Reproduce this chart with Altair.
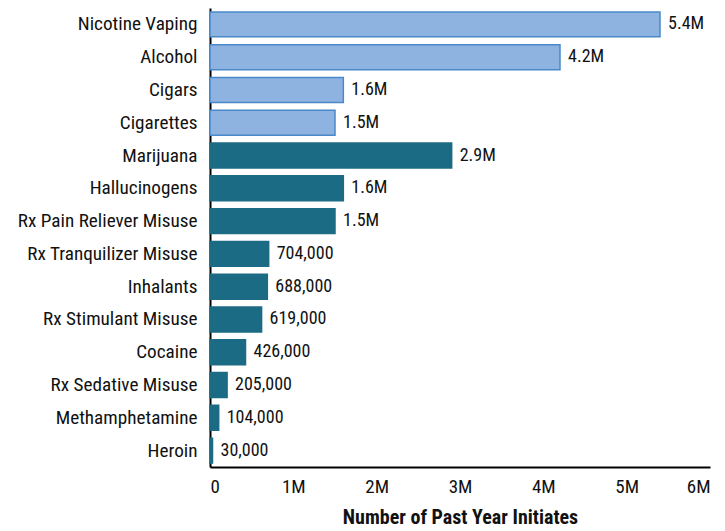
import altair as alt
import pandas as pd

categories = ["Nicotine Vaping", "Alcohol", "Cigars", "Cigarettes", "Marijuana",
              "Hallucinogens", "Rx Pain Reliever Misuse", "Rx Tranquilizer Misuse",
              "Inhalants", "Rx Stimulant Misuse", "Cocaine", "Rx Sedative Misuse",
              "Methamphetamine", "Heroin"]
values = [5400000, 4200000, 1600000, 1500000, 2900000, 1600000, 1500000,
          704000, 688000, 619000, 426000, 205000, 104000, 30000]
labels = ["5.4M", "4.2M", "1.6M", "1.5M", "2.9M", "1.6M", "1.5M",
          "704,000", "688,000", "619,000", "426,000", "205,000", "104,000", "30,000"]
groups = ["Tobacco/Alcohol"] * 4 + ["Drugs"] * 10

df = pd.DataFrame({"cat": categories, "val": values, "lab": labels, "grp": groups})

FONT = "Liberation Sans Narrow, Roboto Condensed, Arial Narrow, Liberation Sans, sans-serif"

y = alt.Y("cat:N", sort=categories, title=None,
          scale=alt.Scale(paddingInner=0.24, paddingOuter=0.12),
          axis=alt.Axis(domainColor="black", domainWidth=2, ticks=False,
                        labelFontSize=19.2, labelColor="#111111", labelFont=FONT,
                        labelPadding=13, labelLimit=300))
x = alt.X("val:Q", title="Number of Past Year Initiates",
          scale=alt.Scale(domain=[0, 6000000], nice=False),
          axis=alt.Axis(values=[0, 1000000, 2000000, 3000000, 4000000, 5000000, 6000000],
                        labelExpr="datum.value == 0 ? '0' : (datum.value/1000000) + 'M'",
                        domainColor="black", domainWidth=2, ticks=False, grid=False,
                        labelFontSize=19, labelColor="#111111", labelFont=FONT,
                        labelPadding=10, titleFont=FONT, titleFontSize=20,
                        titleFontWeight="bold", titleColor="#111111", titlePadding=11))

bars = alt.Chart(df).mark_bar(strokeWidth=1.5).encode(
    x=x, y=y,
    color=alt.Color("grp:N", scale=alt.Scale(domain=["Tobacco/Alcohol", "Drugs"],
                                             range=["#8fb3e0", "#1c6b84"]), legend=None),
    stroke=alt.Stroke("grp:N", scale=alt.Scale(domain=["Tobacco/Alcohol", "Drugs"],
                                               range=["#4a89c9", "#1c6b84"]), legend=None),
)

text = alt.Chart(df).mark_text(align="left", baseline="middle", dx=8, fontSize=18,
                               font=FONT, color="#111111").encode(
    x="val:Q", y=alt.Y("cat:N", sort=categories), text="lab:N")

chart = (bars + text).properties(
    width=500, height=459,
    autosize=alt.AutoSizeParams(type="none"),
    padding={"left": 202, "top": 0, "right": 7, "bottom": 64},
).configure_view(stroke=None)

chart.save("out.html", embed_options={"renderer": "svg", "actions": False})
